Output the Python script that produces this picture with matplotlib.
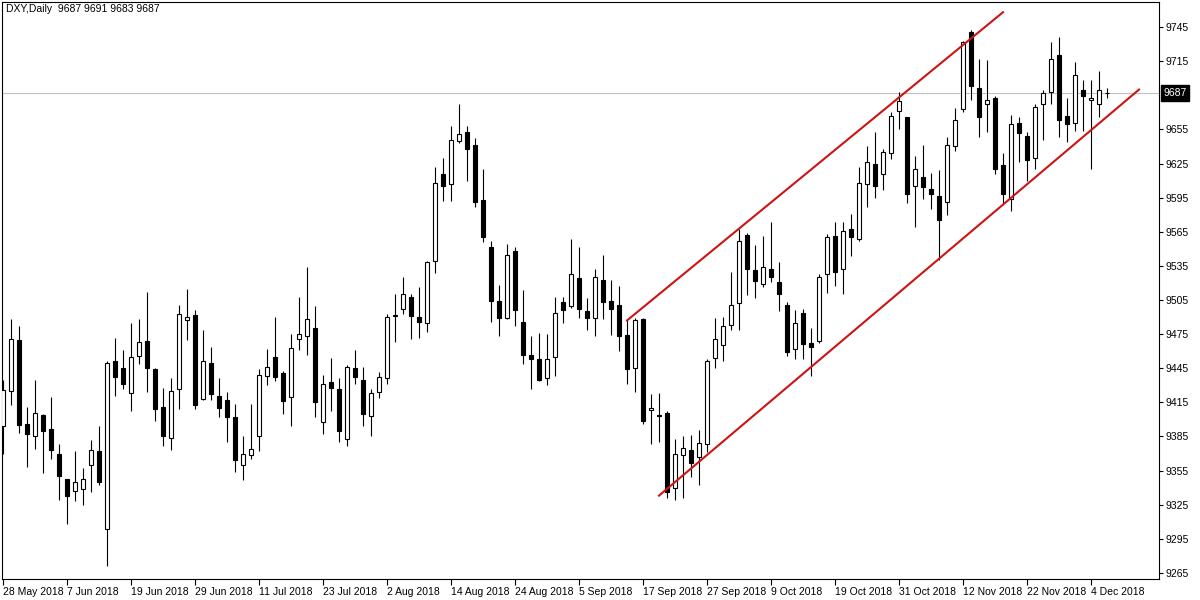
import matplotlib
matplotlib.use('Agg')
import matplotlib.pyplot as plt
import numpy as np

# ---- data (DXY daily, price x100) ----
opens = [9394, 9425, 9470, 9396, 9385, 9404, 9392, 9370, 9348, 9337,
         9339, 9360, 9372, 9304, 9451, 9445, 9423, 9456, 9469, 9444,
         9411, 9384, 9427, 9487, 9492, 9418, 9450, 9421, 9417, 9402,
         9360, 9369, 9385, 9438, 9455, 9441, 9420, 9471, 9473, 9480,
         9398, 9433, 9427, 9383, 9445, 9435, 9403, 9424, 9436, 9492,
         9497, 9508, 9490, 9485, 9539, 9616, 9607, 9645, 9653, 9641,
         9593, 9552, 9504, 9489, 9548, 9486, 9457, 9453, 9436, 9455,
         9503, 9500, 9524, 9495, 9489, 9523, 9504, 9501, 9474, 9445,
         9488, 9408, 9404, 9406, 9340, 9369, 9373, 9367, 9378, 9454,
         9465, 9483, 9502, 9562, 9531, 9519, 9532, 9521, 9501, 9462,
         9494, 9467, 9469, 9528, 9561, 9532, 9567, 9559, 9607, 9625,
         9616, 9634, 9671, 9666, 9605, 9613, 9603, 9596, 9591, 9640,
         9673, 9741, 9691, 9677, 9683, 9624, 9594, 9661, 9649, 9630,
         9677, 9688, 9720, 9667, 9661, 9690, 9681, 9677, 9687]
highs = [9435, 9488, 9482, 9411, 9435, 9405, 9420, 9378, 9348, 9372,
         9357, 9382, 9394, 9451, 9472, 9461, 9485, 9488, 9512, 9445,
         9428, 9436, 9501, 9515, 9496, 9479, 9464, 9436, 9424, 9414,
         9385, 9414, 9444, 9462, 9490, 9443, 9475, 9508, 9534, 9500,
         9439, 9454, 9436, 9448, 9461, 9446, 9427, 9442, 9493, 9510,
         9525, 9510, 9516, 9539, 9622, 9630, 9658, 9677, 9658, 9647,
         9620, 9557, 9518, 9554, 9552, 9514, 9473, 9476, 9475, 9508,
         9508, 9559, 9552, 9507, 9532, 9545, 9523, 9517, 9487, 9489,
         9489, 9422, 9423, 9407, 9383, 9385, 9386, 9391, 9453, 9489,
         9490, 9530, 9567, 9564, 9553, 9561, 9574, 9538, 9503, 9496,
         9497, 9480, 9528, 9563, 9574, 9574, 9581, 9622, 9640, 9653,
         9638, 9670, 9688, 9666, 9632, 9641, 9617, 9619, 9648, 9674,
         9733, 9742, 9717, 9716, 9684, 9634, 9668, 9666, 9653, 9677,
         9690, 9732, 9736, 9683, 9714, 9698, 9698, 9706, 9691]
lows = [9370, 9413, 9388, 9358, 9374, 9353, 9365, 9329, 9308, 9328,
        9325, 9336, 9342, 9271, 9421, 9427, 9407, 9449, 9424, 9399,
        9377, 9373, 9409, 9470, 9409, 9417, 9417, 9402, 9380, 9354,
        9347, 9365, 9372, 9430, 9434, 9405, 9394, 9461, 9457, 9402,
        9387, 9407, 9380, 9377, 9431, 9394, 9385, 9419, 9431, 9468,
        9493, 9471, 9472, 9477, 9529, 9592, 9592, 9643, 9610, 9587,
        9556, 9486, 9473, 9488, 9482, 9449, 9427, 9434, 9430, 9438,
        9485, 9498, 9489, 9479, 9473, 9488, 9474, 9460, 9431, 9424,
        9396, 9378, 9380, 9331, 9329, 9331, 9349, 9342, 9371, 9445,
        9451, 9479, 9479, 9509, 9507, 9516, 9521, 9495, 9456, 9453,
        9453, 9438, 9467, 9511, 9517, 9510, 9544, 9557, 9587, 9595,
        9602, 9629, 9655, 9590, 9569, 9594, 9585, 9540, 9580, 9636,
        9670, 9681, 9648, 9653, 9616, 9590, 9583, 9626, 9610, 9620,
        9646, 9677, 9648, 9644, 9654, 9654, 9620, 9666, 9683]
closes = [9426, 9471, 9395, 9387, 9406, 9390, 9373, 9350, 9333, 9345,
          9348, 9373, 9345, 9450, 9437, 9431, 9455, 9468, 9445, 9409,
          9385, 9425, 9493, 9490, 9413, 9451, 9422, 9410, 9402, 9364,
          9370, 9374, 9439, 9446, 9437, 9416, 9463, 9475, 9488, 9415,
          9431, 9428, 9390, 9446, 9437, 9405, 9423, 9437, 9490, 9491,
          9510, 9491, 9486, 9538, 9608, 9605, 9646, 9651, 9638, 9591,
          9560, 9504, 9489, 9545, 9496, 9457, 9453, 9435, 9453, 9494,
          9496, 9528, 9497, 9489, 9525, 9503, 9497, 9473, 9444, 9487,
          9399, 9410, 9403, 9336, 9370, 9375, 9362, 9379, 9451, 9471,
          9482, 9501, 9557, 9532, 9522, 9534, 9525, 9510, 9459, 9485,
          9466, 9464, 9525, 9560, 9530, 9566, 9560, 9608, 9626, 9605,
          9635, 9667, 9680, 9598, 9620, 9604, 9598, 9575, 9641, 9663,
          9732, 9693, 9666, 9681, 9620, 9598, 9660, 9652, 9628, 9675,
          9687, 9717, 9663, 9660, 9703, 9684, 9683, 9690, 9687]

date_labels = ["28 May 2018", "7 Jun 2018", "19 Jun 2018", "29 Jun 2018",
               "11 Jul 2018", "23 Jul 2018", "2 Aug 2018", "14 Aug 2018",
               "24 Aug 2018", "5 Sep 2018", "17 Sep 2018", "27 Sep 2018",
               "9 Oct 2018", "19 Oct 2018", "31 Oct 2018", "12 Nov 2018",
               "22 Nov 2018", "4 Dec 2018"]
date_label_bars = list(range(0, 137, 8))
# the 9685 level is hidden behind the current-price box in the reference
price_ticks = [p for p in range(9265, 9746, 30) if p != 9685]

upper_channel_x = [78, 125]
upper_channel_y = [9487, 9758]
lower_channel_x = [82, 142]
lower_channel_y = [9333, 9690]

last_price = 9687
header = "DXY,Daily  9687 9691 9683 9687"

# ---- figure ----
FONT = "Liberation Sans"
plt.rcParams['font.family'] = [FONT, 'DejaVu Sans']

fig = plt.figure(figsize=(12, 6), dpi=100)
fig.patch.set_facecolor('white')
ax = fig.add_axes([1.5 / 1200, 21 / 600, 1157 / 1200, 577 / 600])
ax.set_facecolor('white')

x = np.arange(len(opens))
o = np.array(opens, dtype=float)
c = np.array(closes, dtype=float)
h = np.array(highs, dtype=float)
l = np.array(lows, dtype=float)
up = c >= o

ax.axhline(last_price, color='#c0c0c0', lw=0.8, zorder=1)

ax.vlines(x, l, h, color='black', lw=0.8, zorder=2)
ax.bar(x[up], (c - o)[up], bottom=o[up], width=0.5, facecolor='white',
       edgecolor='black', linewidth=0.8, zorder=3)
ax.bar(x[~up], (c - o)[~up], bottom=o[~up], width=0.5, facecolor='black',
       edgecolor='black', linewidth=0.8, zorder=3)

ax.plot(upper_channel_x, upper_channel_y, color='#cc1414', lw=1.5, zorder=4)
ax.plot(lower_channel_x, lower_channel_y, color='#cc1414', lw=1.5, zorder=4)

ax.set_xlim(-0.19, 144.44)
ax.set_ylim(9259.7, 9767.0)

ax.yaxis.tick_right()
ax.set_yticks(price_ticks)
ax.set_yticklabels([str(p) for p in price_ticks])
ax.tick_params(axis='y', length=3, width=0.8, pad=2, labelsize=7.5,
               direction='out', colors='black')

ax.set_xticks(date_label_bars)
ax.set_xticklabels(date_labels, ha='left')
ax.tick_params(axis='x', length=4, width=0.8, pad=1.5, labelsize=7.5,
               direction='out', colors='black')

for s in ax.spines.values():
    s.set_color('black')
    s.set_linewidth(0.8)

ax.annotate(str(last_price), xy=(1.0, last_price),
            xycoords=('axes fraction', 'data'), xytext=(3.5, 0),
            textcoords='offset points', ha='left', va='center',
            color='white', fontsize=7.5,
            bbox=dict(boxstyle='square,pad=0.25', fc='black', ec='black'),
            annotation_clip=False, zorder=10)

fig.text(6 / 1200, 1 - 9.5 / 600, header, ha='left', va='center',
         fontsize=7.5, color='black')

fig.savefig('out.png', dpi=100, facecolor='white')
